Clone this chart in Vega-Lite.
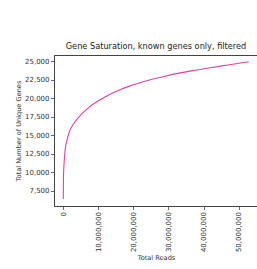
{
  "$schema": "https://vega.github.io/schema/vega-lite/v6.json",
  "width": 204,
  "height": 151,
  "autosize": {"type": "none"},
  "padding": {"left": 54, "top": 55, "right": 0, "bottom": 63},
  "background": "white",
  "title": {
    "text": "Gene Saturation, known genes only, filtered",
    "fontSize": 8.2,
    "fontWeight": "normal",
    "font": "DejaVu Sans",
    "color": "#222",
    "anchor": "middle",
    "offset": 4
  },
  "data": {
    "values": [
      {"reads": 0, "genes": 6400},
      {"reads": 50000, "genes": 9000},
      {"reads": 150000, "genes": 10600},
      {"reads": 290000, "genes": 11630},
      {"reads": 570000, "genes": 13200},
      {"reads": 1050000, "genes": 14320},
      {"reads": 1710000, "genes": 15440},
      {"reads": 2670000, "genes": 16340},
      {"reads": 3900000, "genes": 17150},
      {"reads": 4950000, "genes": 17720},
      {"reads": 6100000, "genes": 18250},
      {"reads": 7330000, "genes": 18760},
      {"reads": 8500000, "genes": 19180},
      {"reads": 9700000, "genes": 19560},
      {"reads": 11500000, "genes": 20060},
      {"reads": 14100000, "genes": 20700},
      {"reads": 16500000, "genes": 21200},
      {"reads": 18900000, "genes": 21630},
      {"reads": 21200000, "genes": 21980},
      {"reads": 23600000, "genes": 22320},
      {"reads": 26500000, "genes": 22680},
      {"reads": 29300000, "genes": 23000},
      {"reads": 33000000, "genes": 23380},
      {"reads": 36900000, "genes": 23720},
      {"reads": 41500000, "genes": 24080},
      {"reads": 46500000, "genes": 24450},
      {"reads": 52900000, "genes": 24910}
    ]
  },
  "mark": {"type": "line", "color": "#e93ea2", "strokeWidth": 1.1, "interpolate": "monotone"},
  "encoding": {
    "x": {
      "field": "reads",
      "type": "quantitative",
      "title": "Total Reads",
      "scale": {"domain": [-2645000, 55545000], "nice": false, "zero": false},
      "axis": {
        "values": [0, 10000000, 20000000, 30000000, 40000000, 50000000],
        "format": ",.0f",
        "labelAngle": -90,
        "labelAlign": "right",
        "labelBaseline": "middle",
        "labelPadding": 2,
        "titlePadding": 3
      }
    },
    "y": {
      "field": "genes",
      "type": "quantitative",
      "title": "Total Number of Unique Genes",
      "scale": {"domain": [5457, 25826], "nice": false, "zero": false},
      "axis": {
        "values": [7500, 10000, 12500, 15000, 17500, 20000, 22500, 25000],
        "format": ",.0f",
        "labelPadding": 1.5,
        "titlePadding": 3
      }
    }
  },
  "config": {
    "font": "DejaVu Sans",
    "view": {"stroke": "#444", "strokeWidth": 1},
    "axis": {
      "grid": false,
      "domainColor": "#444",
      "domainWidth": 1,
      "tickColor": "#444",
      "tickSize": 3.5,
      "tickWidth": 0.8,
      "labelFont": "DejaVu Sans",
      "labelFontSize": 7,
      "labelColor": "#333",
      "labelFlush": false,
      "labelOverlap": false,
      "titleFont": "DejaVu Sans",
      "titleFontSize": 6.6,
      "titleFontWeight": "normal",
      "titleColor": "#333"
    }
  }
}
